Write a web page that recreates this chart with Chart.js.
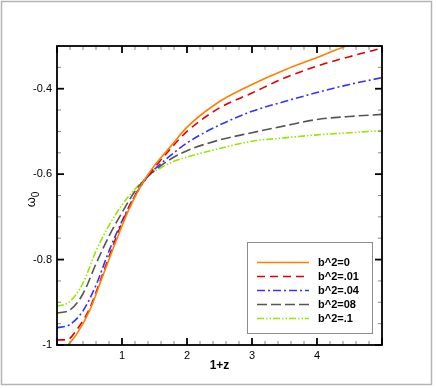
<!DOCTYPE html>
<html><head><meta charset="utf-8">
<script src="https://cdn.jsdelivr.net/npm/chart.js@4/dist/chart.umd.min.js"></script>
<style>html,body{margin:0;padding:0;background:#fff}#wrap{width:436px;height:388px;position:relative}</style>
</head><body><div id="wrap"><canvas id="c" width="436" height="388"></canvas></div>
<script>
// ---- data ----
const xTicks = [1, 2, 3, 4];
const yTicks = [-1, -0.8, -0.6, -0.4];
const seriesLabels = ['b^2=0', 'b^2=.01', 'b^2=.04', 'b^2=08', 'b^2=.1'];
const yTitleMain = 'ω';
const yTitleSub = '0';

const xB0  = [0.17, 0.3, 0.5, 0.7, 0.9, 1.1, 1.3, 1.5, 1.75, 2.0, 2.5, 3.0, 3.5, 4.0, 4.45, 4.7];
const yB0  = [-1.0, -0.975, -0.92, -0.84, -0.76, -0.685, -0.625, -0.58, -0.535, -0.49, -0.43, -0.39, -0.356, -0.327, -0.30, -0.288];

const xB01 = [0, 0.15, 0.3, 0.5, 0.7, 0.9, 1.1, 1.3, 1.5, 1.75, 2.0, 2.5, 3.0, 3.5, 4.0, 4.5, 5.0];
const yB01 = [-0.988, -0.988, -0.965, -0.915, -0.835, -0.752, -0.68, -0.625, -0.585, -0.54, -0.50, -0.445, -0.41, -0.375, -0.347, -0.325, -0.305];

const xB04 = [0, 0.2, 0.4, 0.6, 0.8, 1.0, 1.2, 1.4, 1.6, 1.8, 2.0, 2.5, 3.0, 3.5, 4.0, 4.5, 5.0];
const yB04 = [-0.96, -0.952, -0.92, -0.86, -0.78, -0.71, -0.65, -0.605, -0.575, -0.55, -0.527, -0.485, -0.453, -0.43, -0.409, -0.39, -0.374];

const xB08 = [0, 0.2, 0.4, 0.6, 0.8, 1.0, 1.2, 1.4, 1.6, 1.8, 2.0, 2.5, 3.0, 3.5, 4.0, 4.5, 5.0];
const yB08 = [-0.925, -0.918, -0.88, -0.81, -0.745, -0.69, -0.64, -0.605, -0.58, -0.56, -0.545, -0.52, -0.503, -0.487, -0.472, -0.465, -0.46];

const xB1  = [0, 0.2, 0.4, 0.6, 0.8, 1.0, 1.2, 1.4, 1.6, 1.8, 2.0, 2.5, 3.0, 3.5, 4.0, 4.5, 5.0];
const yB1  = [-0.91, -0.898, -0.855, -0.78, -0.72, -0.672, -0.635, -0.605, -0.585, -0.57, -0.56, -0.54, -0.523, -0.515, -0.508, -0.503, -0.498];

// ---- styles ----
const colors = ['#ff8000', '#e00000', '#3333ff', '#555555', '#99e600'];
const dashes = [[], [8, 5], [8, 3, 2, 3], [10, 4], [7, 2, 1.5, 2, 1.5, 2]];
const FONT = '"Liberation Sans", Arial, sans-serif';

const toPts = (xs, ys) => xs.map((x, i) => ({x: x, y: ys[i]}));
const seriesX = [xB0, xB01, xB04, xB08, xB1];
const seriesY = [yB0, yB01, yB04, yB08, yB1];

const datasets = seriesLabels.map((lab, i) => ({
  label: lab,
  data: toPts(seriesX[i], seriesY[i]),
  borderColor: colors[i],
  backgroundColor: colors[i],
  borderDash: dashes[i],
  borderWidth: 1.6,
  pointRadius: 0,
  cubicInterpolationMode: 'monotone',
  fill: false
}));

const decor = {
  id: 'decor',
  afterDraw(chart) {
    const ctx = chart.ctx, a = chart.chartArea, xs = chart.scales.x, ys = chart.scales.y;
    const line = (x1, y1, x2, y2) => { ctx.beginPath(); ctx.moveTo(x1, y1); ctx.lineTo(x2, y2); ctx.stroke(); };
    ctx.save();
    // outer frame
    ctx.strokeStyle = '#b4b4b4'; ctx.lineWidth = 1.5;
    ctx.strokeRect(1.5, 1.5, 430, 383);
    // ticks (inside, all four sides)
    for (let i = 0; i <= 25; i++) {
      const v = i * 0.2;
      const px = xs.getPixelForValue(v);
      const major = i % 5 === 0;
      ctx.strokeStyle = major ? '#000' : '#888';
      ctx.lineWidth = major ? 1.8 : 1;
      const L = major ? 7 : 4;
      line(px, a.bottom, px, a.bottom - L);
      line(px, a.top, px, a.top + L);
    }
    for (let i = 0; i <= 14; i++) {
      const v = -1 + i * 0.05;
      const py = ys.getPixelForValue(v);
      const major = i % 4 === 0;
      ctx.strokeStyle = major ? '#000' : '#888';
      ctx.lineWidth = major ? 1.8 : 1;
      const L = major ? 7 : 4;
      line(a.left, py, a.left + L, py);
      line(a.right, py, a.right - L, py);
    }
    // plot border
    ctx.strokeStyle = '#000'; ctx.lineWidth = 1.8;
    ctx.strokeRect(a.left, a.top, a.right - a.left, a.bottom - a.top);
    // y title with subscript
    ctx.save();
    ctx.translate(31, (a.top + a.bottom) / 2 + 4);
    ctx.rotate(-Math.PI / 2);
    ctx.fillStyle = '#000';
    ctx.textBaseline = 'alphabetic'; ctx.textAlign = 'left';
    ctx.font = '13px ' + FONT;
    const w1 = ctx.measureText(yTitleMain).width;
    ctx.font = '10px ' + FONT;
    const w2 = ctx.measureText(yTitleSub).width;
    const x0 = -(w1 + w2) / 2;
    ctx.font = '13px ' + FONT;
    ctx.fillText(yTitleMain, x0, 4);
    ctx.font = '10px ' + FONT;
    ctx.fillText(yTitleSub, x0 + w1, 8);
    ctx.restore();
    // legend
    const lx = 247, ly = 242, lw = 125, lh = 91;
    ctx.fillStyle = '#fff'; ctx.fillRect(lx, ly, lw, lh);
    ctx.strokeStyle = '#8c8c8c'; ctx.lineWidth = 1;
    ctx.strokeRect(lx + 0.5, ly + 0.5, lw, lh);
    ctx.font = 'bold 11px ' + FONT;
    ctx.textBaseline = 'middle'; ctx.textAlign = 'left';
    chart.data.datasets.forEach((ds, i) => {
      const yy = 262.5 + i * 14;
      ctx.strokeStyle = ds.borderColor; ctx.lineWidth = 1.6;
      ctx.setLineDash(ds.borderDash);
      line(257, yy, 309, yy);
      ctx.setLineDash([]);
      ctx.fillStyle = '#000';
      ctx.fillText(ds.label, 318, yy + 0.5);
    });
    ctx.restore();
  }
};

new Chart(document.getElementById('c'), {
  type: 'line',
  data: { datasets: datasets },
  options: {
    responsive: false,
    animation: false,
    devicePixelRatio: 1,
    layout: { padding: { top: 46, right: 54, left: 0, bottom: 0 } },
    plugins: { legend: { display: false }, tooltip: { enabled: false } },
    scales: {
      x: {
        type: 'linear', min: 0, max: 5,
        afterFit: s => { s.height = 43; },
        afterBuildTicks: s => { s.ticks = xTicks.map(v => ({value: v})); },
        grid: { display: false, drawTicks: false },
        border: { display: false },
        ticks: { padding: 4, color: '#000', font: { size: 11, family: FONT },
                 callback: v => String(v), maxRotation: 0 },
        title: { display: true, text: '1+z', color: '#000', padding: { top: 15, bottom: 15 },
                 font: { size: 12, weight: 'bold', family: FONT } }
      },
      y: {
        type: 'linear', min: -1, max: -0.3,
        afterFit: s => { s.width = 57; },
        afterBuildTicks: s => { s.ticks = yTicks.map(v => ({value: v})); },
        grid: { display: false, drawTicks: false },
        border: { display: false },
        ticks: { padding: 5, color: '#000', font: { size: 11, family: FONT },
                 callback: v => String(v) },
        title: { display: false }
      }
    }
  },
  plugins: [decor]
});
</script></body></html>
